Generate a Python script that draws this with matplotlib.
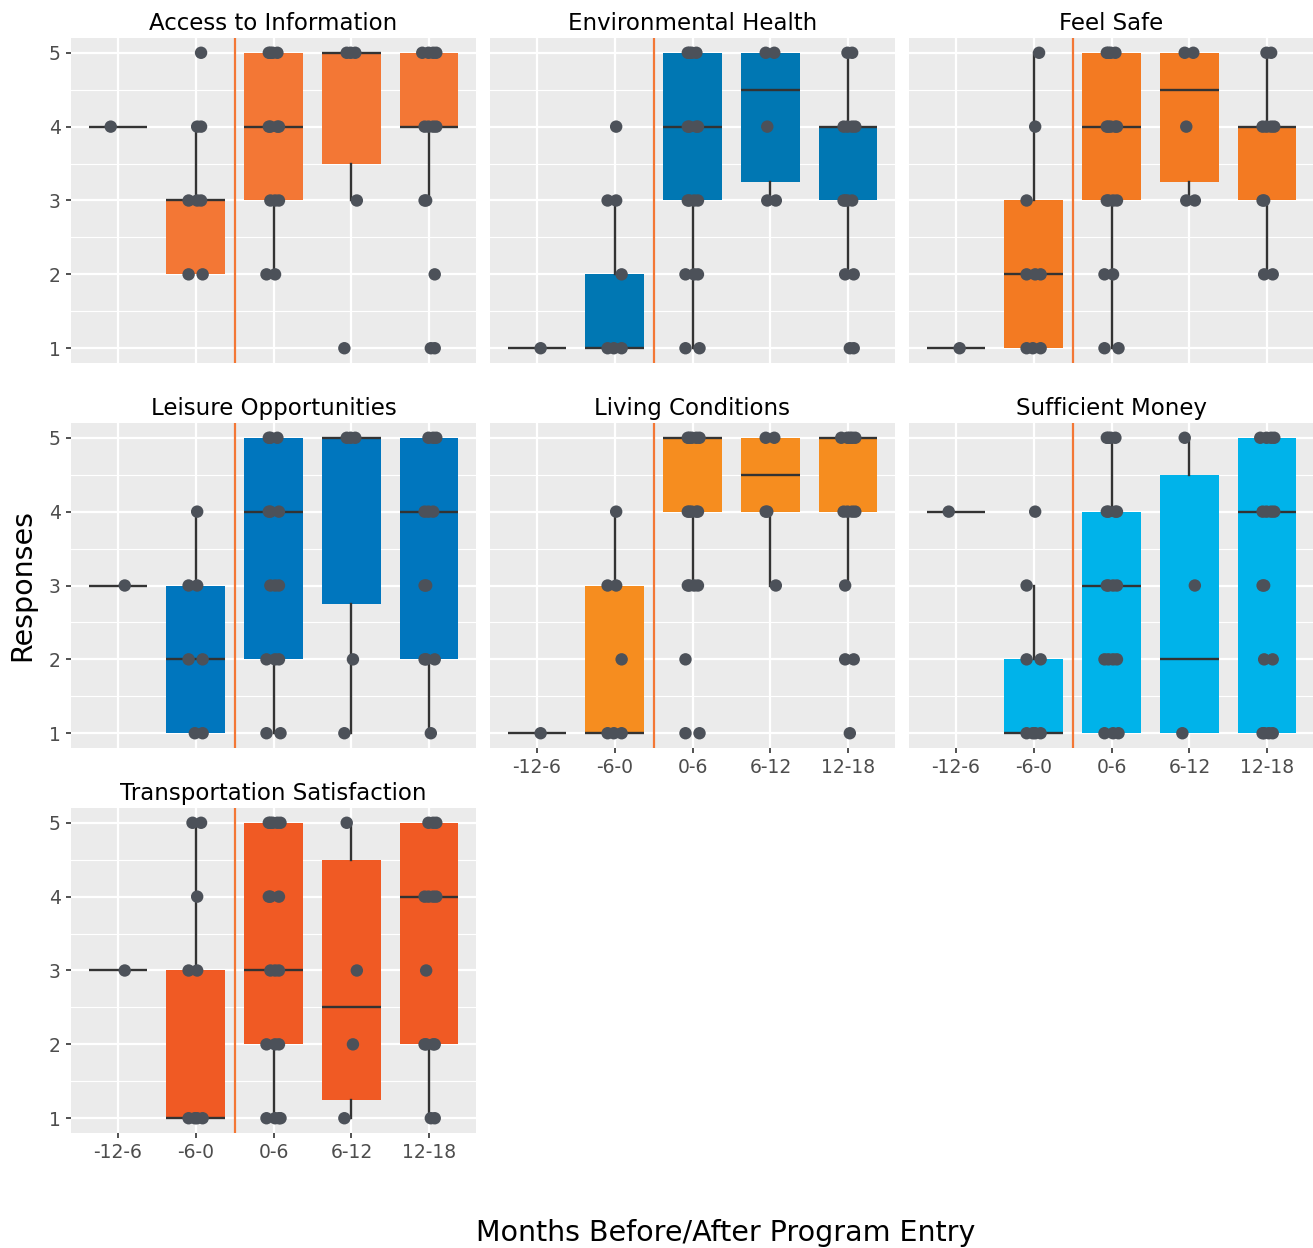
import matplotlib
matplotlib.use("Agg")
import matplotlib.pyplot as plt
from matplotlib.ticker import FixedLocator

plt.rcParams['font.family'] = ['DejaVu Sans']

categories = ["-12-6", "-6-0", "0-6", "6-12", "12-18"]
facets = ["Access to Information", "Environmental Health", "Feel Safe",
          "Leisure Opportunities", "Living Conditions", "Sufficient Money",
          "Transportation Satisfaction"]
box_colors = ["#F37735", "#0077B3", "#F37A22", "#0076BE", "#F68D1F", "#00B3EA", "#F05A24"]

# box statistics per facet (rows) and category (columns)
medians = [[4, 3, 4, 5, 4],
           [1, 1, 4, 4.5, 4],
           [1, 2, 4, 4.5, 4],
           [3, 2, 4, 5, 4],
           [1, 1, 5, 4.5, 5],
           [4, 1, 3, 2, 4],
           [3, 1, 3, 2.5, 4]]
q1s = [[4, 2, 3, 3.5, 4],
       [1, 1, 3, 3.25, 3],
       [1, 1, 3, 3.25, 3],
       [3, 1, 2, 2.75, 2],
       [1, 1, 4, 4, 4],
       [4, 1, 1, 1, 1],
       [3, 1, 2, 1.25, 2]]
q3s = [[4, 3, 5, 5, 5],
       [1, 2, 5, 5, 4],
       [1, 3, 5, 5, 4],
       [3, 3, 5, 5, 5],
       [1, 3, 5, 5, 5],
       [4, 2, 4, 4.5, 5],
       [3, 3, 5, 4.5, 5]]
whisker_lo = [[4, 2, 2, 3, 3],
              [1, 1, 1, 3, 2],
              [1, 1, 1, 3, 2],
              [3, 1, 1, 1, 1],
              [1, 1, 3, 3, 3],
              [4, 1, 1, 1, 1],
              [3, 1, 1, 1, 1]]
whisker_hi = [[4, 4, 5, 5, 5],
              [1, 3, 5, 5, 5],
              [1, 5, 5, 5, 5],
              [3, 4, 5, 5, 5],
              [1, 4, 5, 5, 5],
              [4, 3, 5, 5, 5],
              [3, 5, 5, 5, 5]]

# individual responses per facet and category
access_pts = [[4], [5, 4, 4, 3, 3, 3, 2, 2], [5, 5, 5, 5, 4, 4, 4, 4, 3, 3, 3, 2, 2],
              [5, 5, 5, 3, 1], [5, 5, 5, 5, 4, 4, 4, 4, 3, 3, 2, 1, 1]]
env_pts = [[1], [4, 3, 3, 2, 1, 1, 1], [5, 5, 5, 5, 4, 4, 4, 4, 3, 3, 3, 3, 2, 2, 2, 1, 1],
           [5, 5, 4, 3, 3], [5, 5, 4, 4, 4, 4, 3, 3, 3, 3, 2, 2, 1, 1]]
safe_pts = [[1], [5, 4, 3, 2, 2, 2, 1, 1, 1], [5, 5, 5, 5, 4, 4, 4, 4, 4, 3, 3, 3, 3, 2, 2, 1, 1],
            [5, 5, 4, 3, 3], [5, 5, 4, 4, 4, 4, 3, 3, 2, 2]]
leisure_pts = [[3], [4, 3, 3, 2, 2, 1, 1], [5, 5, 5, 4, 4, 4, 3, 3, 3, 2, 2, 2, 1, 1],
               [5, 5, 5, 2, 1], [5, 5, 5, 4, 4, 4, 3, 3, 2, 2, 2, 1]]
living_pts = [[1], [4, 3, 3, 2, 1, 1, 1], [5, 5, 5, 5, 5, 4, 4, 4, 4, 4, 3, 3, 3, 3, 2, 1, 1],
              [5, 5, 4, 4, 3], [5, 5, 5, 5, 5, 4, 4, 4, 4, 3, 2, 2, 1]]
money_pts = [[4], [4, 3, 2, 2, 1, 1, 1, 1], [5, 5, 5, 5, 4, 4, 4, 4, 3, 3, 3, 3, 2, 2, 2, 2, 1, 1, 1],
             [5, 3, 1], [5, 5, 5, 5, 4, 4, 4, 4, 3, 3, 2, 2, 1, 1, 1, 1]]
transport_pts = [[3], [5, 5, 4, 3, 3, 1, 1, 1, 1], [5, 5, 5, 5, 5, 4, 4, 4, 3, 3, 3, 2, 2, 2, 1, 1, 1, 1],
                 [5, 3, 2, 1], [5, 5, 5, 4, 4, 4, 4, 3, 2, 2, 2, 2, 1, 1]]
all_points = [access_pts, env_pts, safe_pts, leisure_pts, living_pts, money_pts, transport_pts]

y_ticks = [1, 2, 3, 4, 5]

# ---------------------------------------------------------------- layout
W, H = 1313, 1248
fig = plt.figure(figsize=(W / 100, H / 100), dpi=100)
col_left = [71, 490, 909]
row_top = [38, 423, 808]
pw, ph = 405, 325

jitter_pattern = [-0.06, 0.05, -0.01, 0.09, -0.09, 0.02, 0.07, -0.04]
dark = "#333333"
text_gray = "#4D4D4D"

axes = []
for i, name in enumerate(facets):
    r, c = divmod(i, 3)
    ax = fig.add_axes([col_left[c] / W, 1 - (row_top[r] + ph) / H, pw / W, ph / H])
    axes.append(ax)
    ax.set_facecolor("#EBEBEB")
    for s in ax.spines.values():
        s.set_visible(False)
    ax.set_xlim(0.4, 5.6)
    ax.set_ylim(0.8, 5.2)
    ax.yaxis.set_major_locator(FixedLocator(y_ticks))
    ax.yaxis.set_minor_locator(FixedLocator([1.5, 2.5, 3.5, 4.5]))
    ax.xaxis.set_major_locator(FixedLocator(range(1, len(categories) + 1)))
    ax.grid(which="major", color="white", linewidth=1.6, zorder=0)
    ax.grid(which="minor", axis="y", color="white", linewidth=0.8, zorder=0)
    ax.set_axisbelow(True)
    ax.tick_params(which="major", length=3.5, width=1.2, color=dark,
                   labelsize=13.5, labelcolor=text_gray, pad=4)
    ax.tick_params(which="minor", length=0)

    stats = []
    for j in range(len(categories)):
        stats.append(dict(med=medians[i][j], q1=q1s[i][j], q3=q3s[i][j],
                          whislo=whisker_lo[i][j], whishi=whisker_hi[i][j], fliers=[]))
    ax.bxp(stats, positions=range(1, len(categories) + 1), widths=0.75,
           showcaps=False, showfliers=False, patch_artist=True,
           boxprops=dict(facecolor=box_colors[i], edgecolor=box_colors[i], linewidth=0),
           whiskerprops=dict(color=dark, linewidth=1.7),
           medianprops=dict(color=dark, linewidth=1.7, solid_capstyle="butt"),
           manage_ticks=False, zorder=2)

    ax.axvline(2.5, color="#F37735", linewidth=1.6, zorder=3)

    for j, vals in enumerate(all_points[i]):
        seen = {}
        xs, ys = [], []
        for v in vals:
            k = seen.get(v, 0)
            seen[v] = k + 1
            xs.append(j + 1 + jitter_pattern[(k + j + int(v)) % len(jitter_pattern)])
            ys.append(v)
        ax.scatter(xs, ys, s=80, color="#4C5159", edgecolors="none", zorder=4)

    ax.set_title(name, fontsize=16.5, color="black", pad=6)

    show_y = (c == 0)
    show_x = (r == 2) or (r == 1 and c > 0)
    ax.set_yticklabels([str(t) for t in y_ticks] if show_y else [])
    if not show_y:
        ax.tick_params(axis="y", which="major", length=0)
    if show_x:
        ax.set_xticklabels(categories)
    else:
        ax.set_xticklabels([])
        ax.tick_params(axis="x", which="major", length=0)

fig.text(22 / W, 1 - 585 / H, "Responses", rotation=90, ha="center", va="center",
         fontsize=20.5, color="black")
fig.text(726 / W, 1 - 1233 / H, "Months Before/After Program Entry", ha="center",
         va="center", fontsize=20.5, color="black")

fig.savefig("out.png", dpi=100, facecolor="white")
